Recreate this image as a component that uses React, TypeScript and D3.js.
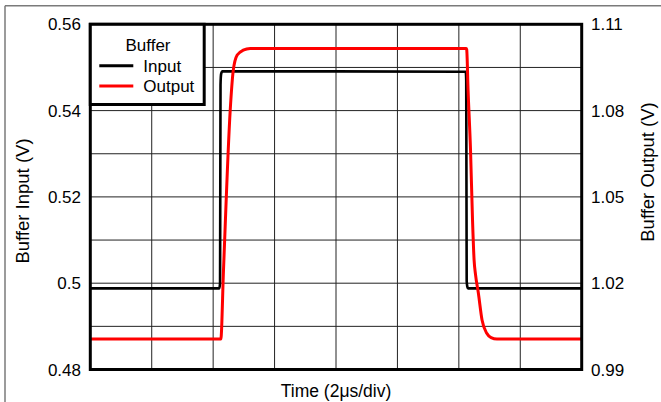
import React from "react";
import * as d3 from "d3";

// Time axis (µs), 8 divisions of 2 µs
const timeTicks = [0, 2, 4, 6, 8, 10, 12, 14, 16];
const leftTicks = [0.48, 0.5, 0.52, 0.54, 0.56];
const leftTickLabels = ["0.48", "0.5", "0.52", "0.54", "0.56"];
const leftGrid = [0.49, 0.5, 0.51, 0.52, 0.53, 0.54, 0.55];
const rightTicks = [0.99, 1.02, 1.05, 1.08, 1.11];
const rightTickLabels = ["0.99", "1.02", "1.05", "1.08", "1.11"];

// Buffer input (V) vs time (µs)
const inputTime = [0, 4.2, 4.225, 4.24, 4.26, 4.3, 8, 12.225, 12.24, 12.255, 12.275, 12.3, 16];
const inputValue = [0.4988, 0.4988, 0.5, 0.546, 0.5485, 0.5491, 0.5491, 0.549, 0.547, 0.5005, 0.4992, 0.4988, 0.4988];

// Buffer output (V) vs time (µs)
const outputTime = [0, 4.25, 4.337, 4.556, 4.653, 4.783, 4.979, 5.206, 8, 12.24, 12.256, 12.3, 12.38, 12.445, 12.496, 12.544, 12.635, 12.755, 12.908, 13.05, 13.24, 16];
const outputValue = [1.0006, 1.0006, 1.0246, 1.0802, 1.0938, 1.0993, 1.101, 1.1016, 1.1016, 1.1016, 1.1012, 1.0872, 1.0663, 1.042, 1.0281, 1.0229, 1.0166, 1.0072, 1.0026, 1.0011, 1.0006, 1.0006];

const W = 661;
const H = 402;
const L = 90.3;
const R = 581.7;
const T = 24.3;
const B = 369.5;
const FONT = "'Liberation Sans', Arial, sans-serif";

export default function App() {
  const x = d3.scaleLinear().domain([0, 16]).range([L, R]);
  const yL = d3.scaleLinear().domain([0.48, 0.56]).range([B, T]);
  const yR = d3.scaleLinear().domain([0.99, 1.11]).range([B, T]);

  const inputPts: [number, number][] = inputTime.map((t, i) => [t, inputValue[i]]);
  const outputPts: [number, number][] = outputTime.map((t, i) => [t, outputValue[i]]);

  const inLine = d3
    .line<[number, number]>()
    .x((d) => x(d[0]))
    .y((d) => yL(d[1]))
    .curve(d3.curveMonotoneX);
  const outLine = d3
    .line<[number, number]>()
    .x((d) => x(d[0]))
    .y((d) => yR(d[1]))
    .curve(d3.curveMonotoneX);

  return (
    <svg
      width={W}
      height={H}
      style={{ position: "absolute", left: 0, top: 0, background: "#fff" }}
      fontFamily={FONT}
    >
      <rect x={0} y={0} width={W} height={H} fill="#fff" />
      {/* outer frame */}
      <line x1={5} y1={5.7} x2={W} y2={5.7} stroke="#7a7a7a" strokeWidth={1.5} />
      <line x1={5} y1={5.7} x2={5} y2={H} stroke="#7a7a7a" strokeWidth={1.5} />

      {/* grid */}
      {timeTicks.slice(1, -1).map((t) => (
        <line key={"gx" + t} x1={x(t)} x2={x(t)} y1={T} y2={B} stroke="#222" strokeWidth={1} />
      ))}
      {leftGrid.map((v) => (
        <line key={"gy" + v} x1={L} x2={R} y1={yL(v)} y2={yL(v)} stroke="#222" strokeWidth={1} />
      ))}

      {/* data */}
      <path d={inLine(inputPts) || ""} fill="none" stroke="#000" strokeWidth={2.6} strokeLinejoin="round" />
      <path d={outLine(outputPts) || ""} fill="none" stroke="#ff0000" strokeWidth={3} strokeLinejoin="round" />

      {/* plot frame */}
      <rect x={L} y={T} width={R - L} height={B - T} fill="none" stroke="#000" strokeWidth={3} />

      {/* left ticks */}
      {leftTicks.map((v, i) => (
        <text key={"lt" + v} x={81} y={yL(v)} dy="0.36em" textAnchor="end" fontSize={17} fill="#000">
          {leftTickLabels[i]}
        </text>
      ))}
      {/* right ticks */}
      {rightTicks.map((v, i) => (
        <text key={"rt" + v} x={591} y={yR(v)} dy="0.36em" textAnchor="start" fontSize={17} fill="#000">
          {rightTickLabels[i]}
        </text>
      ))}

      {/* axis titles */}
      <text x={(L + R) / 2} y={397} textAnchor="middle" fontSize={17.5} fill="#000">
        Time (2μs/div)
      </text>
      <text
        transform={`translate(29,201) rotate(-90)`}
        textAnchor="middle"
        fontSize={18.5}
        fill="#000"
      >
        Buffer Input (V)
      </text>
      <text
        transform={`translate(654,172) rotate(-90)`}
        textAnchor="middle"
        fontSize={18.5}
        fill="#000"
      >
        Buffer Output (V)
      </text>

      {/* legend */}
      <rect x={L} y={T} width={205.7 - 1.5 - L} height={106 - 1.5 - T} fill="#fff" stroke="#000" strokeWidth={3} />
      <text x={148} y={50.7} textAnchor="middle" fontSize={17} fill="#000">
        Buffer
      </text>
      <line x1={99.3} x2={133.3} y1={65.7} y2={65.7} stroke="#000" strokeWidth={3} />
      <text x={143.3} y={71.7} fontSize={17} fill="#000">
        Input
      </text>
      <line x1={99.3} x2={133.3} y1={86} y2={86} stroke="#ff0000" strokeWidth={3} />
      <text x={143.3} y={91.7} fontSize={17} fill="#000">
        Output
      </text>
    </svg>
  );
}
